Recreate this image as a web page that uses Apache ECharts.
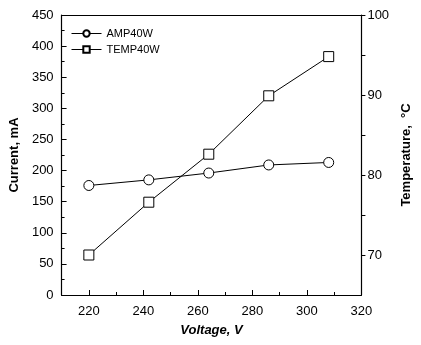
<!DOCTYPE html>
<html>
<head>
<meta charset="utf-8">
<script src="https://cdn.jsdelivr.net/npm/echarts@6/dist/echarts.min.js"></script>
<style>
  html, body { margin: 0; padding: 0; background: #fff; }
  #chart { width: 421px; height: 345px; }
</style>
</head>
<body>
<div id="chart"></div>
<script>
// voltage points (V)
const voltage = [220, 242, 264, 286, 308];
// current, mA (left axis)
const amp40w = [176, 185, 196, 209, 213];
// temperature, °C (right axis)
const temp40w = [70, 76.6, 82.6, 89.9, 94.8];

const xLabels = [220, 240, 260, 280, 300, 320];
const xMinor = [230, 250, 270, 290, 310];
const tempLabels = [70, 80, 90, 100];
const tempTicks = [70, 75, 80, 85, 90, 95, 100];

const chart = echarts.init(document.getElementById('chart'));
const font = 'Liberation Sans, Arial, sans-serif';

chart.setOption({
  animation: false,
  grid: { left: 59, right: 47, top: 15, bottom: 50 },
  legend: {
    left: 66,
    top: 23,
    orient: 'vertical',
    itemWidth: 30,
    itemHeight: 8,
    itemGap: 5,
    lineStyle: { width: 1 },
    textStyle: { fontFamily: font, fontSize: 11, color: '#000' },
    data: ['AMP40W', 'TEMP40W']
  },
  xAxis: [
    {
      type: 'value',
      min: 210,
      max: 320,
      name: 'Voltage, V',
      nameLocation: 'middle',
      nameGap: 29,
      nameTextStyle: { fontFamily: font, fontSize: 13, fontWeight: 'bold', fontStyle: 'italic', color: '#000' },
      axisLine: { lineStyle: { color: '#000', width: 1.2 } },
      axisTick: { show: true, inside: true, length: 5, customValues: xLabels, lineStyle: { color: '#000' } },
      axisLabel: { customValues: xLabels, fontFamily: font, fontSize: 13, color: '#000', margin: 10 },
      splitLine: { show: false }
    },
    {
      type: 'value',
      min: 210,
      max: 320,
      position: 'bottom',
      axisLine: { show: false },
      axisTick: { show: true, inside: true, length: 3, customValues: xMinor, lineStyle: { color: '#000' } },
      axisLabel: { show: false },
      splitLine: { show: false }
    },
    {
      type: 'value',
      min: 210,
      max: 320,
      position: 'top',
      axisLine: { lineStyle: { color: '#000', width: 1 } },
      axisTick: { show: false },
      axisLabel: { show: false },
      splitLine: { show: false }
    }
  ],
  yAxis: [
    {
      type: 'value',
      min: 0,
      max: 450,
      interval: 50,
      name: 'Current, mA',
      nameLocation: 'middle',
      nameGap: 38,
      nameTextStyle: { fontFamily: font, fontSize: 13, fontWeight: 'bold', color: '#000' },
      axisLine: { show: true, lineStyle: { color: '#000', width: 1.2 } },
      axisTick: { show: true, inside: true, length: 5, lineStyle: { color: '#000' } },
      minorTick: { show: true, splitNumber: 2, length: 3, lineStyle: { color: '#000' } },
      axisLabel: { fontFamily: font, fontSize: 13, color: '#000', margin: 8 },
      splitLine: { show: false }
    },
    {
      type: 'value',
      min: 65,
      max: 100,
      position: 'right',
      name: 'Temperature,  °C',
      nameLocation: 'middle',
      nameGap: 30,
      nameRotate: 90,
      nameTextStyle: { fontFamily: font, fontSize: 13, fontWeight: 'bold', color: '#000' },
      axisLine: { show: true, lineStyle: { color: '#000', width: 1.2 } },
      axisTick: { show: true, inside: false, length: 4, customValues: tempTicks, lineStyle: { color: '#000' } },
      axisLabel: { customValues: tempLabels, fontFamily: font, fontSize: 13, color: '#000', margin: 6 },
      splitLine: { show: false }
    }
  ],
  series: [
    {
      name: 'AMP40W',
      type: 'line',
      yAxisIndex: 0,
      data: voltage.map((v, i) => [v, amp40w[i]]),
      symbol: 'circle',
      symbolSize: 10,
      itemStyle: { color: '#fff', borderColor: '#000', borderWidth: 1 },
      lineStyle: { color: '#000', width: 1 }
    },
    {
      name: 'TEMP40W',
      type: 'line',
      yAxisIndex: 1,
      data: voltage.map((v, i) => [v, temp40w[i]]),
      symbol: 'rect',
      symbolSize: 10,
      itemStyle: { color: '#fff', borderColor: '#000', borderWidth: 1 },
      lineStyle: { color: '#000', width: 1 }
    }
  ]
});
</script>
</body>
</html>
